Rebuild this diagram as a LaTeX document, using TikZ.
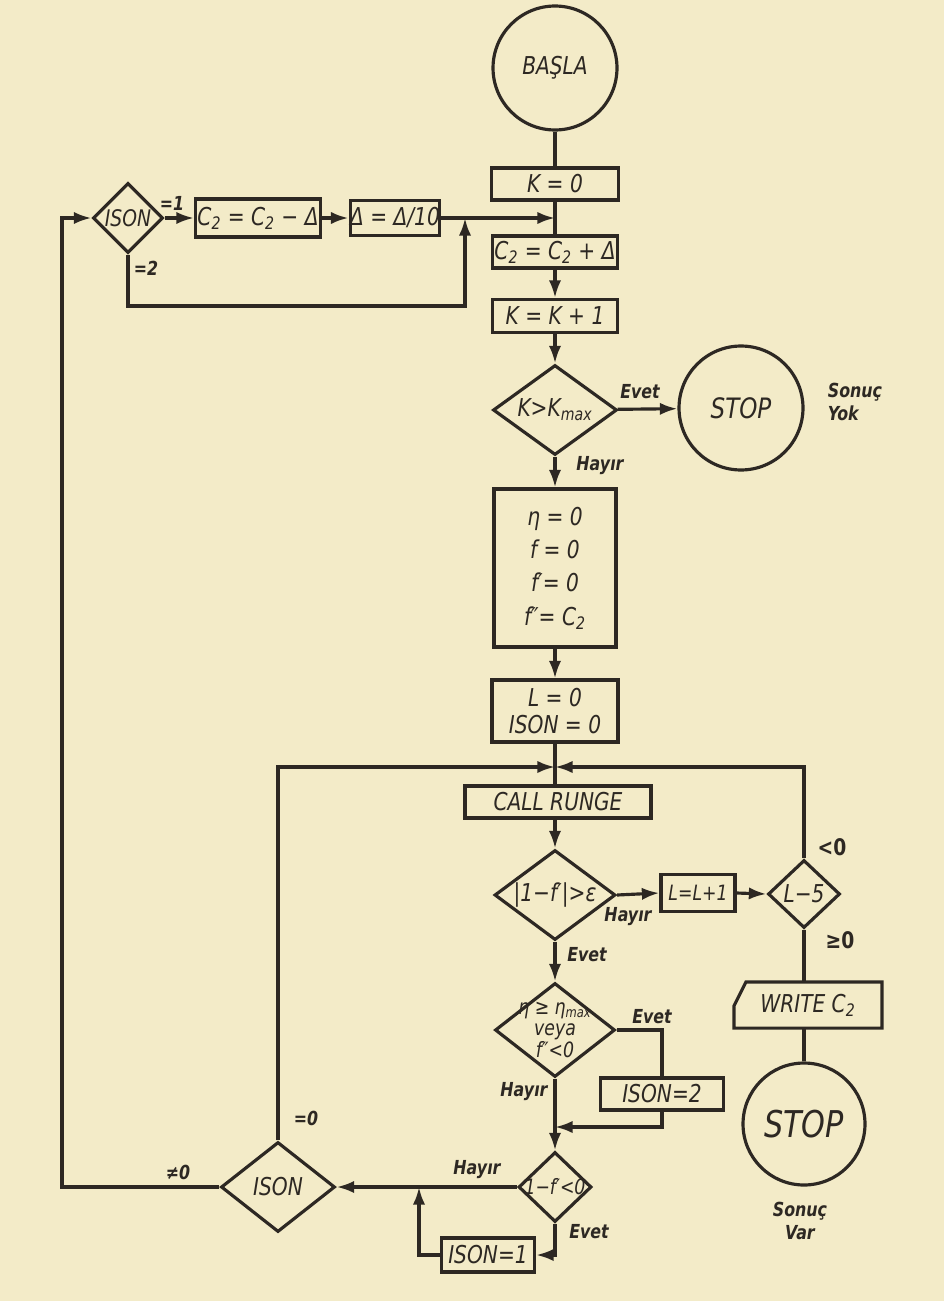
\documentclass[tikz,border=0pt]{standalone}
\usepackage{fontspec}
\setmainfont{DejaVu Sans}[FakeStretch=0.82]
\usetikzlibrary{shapes.geometric,arrows.meta,calc}
\definecolor{paper}{RGB}{243,235,200}
\definecolor{ink}{RGB}{45,40,35}
\tikzset{
  base/.style={draw=ink, line width=1.8pt, text=ink, inner sep=0pt, font=\fontsize{14}{19}\selectfont\itshape},
  box/.style={base, rectangle},
  dia/.style={base, diamond},
  term/.style={base, circle},
  txt/.style={text=ink, inner sep=0pt, font=\fontsize{14}{16}\selectfont\itshape, align=center},
  smalltxt/.style={text=ink, inner sep=0pt, font=\fontsize{12}{12.5}\selectfont\itshape, align=center},
  lab/.style={text=ink, inner sep=0pt, font=\fontsize{11}{13}\selectfont\bfseries\itshape, align=center},
  line/.style={draw=ink, line width=1.8pt},
  arr/.style={line, -{Latex[length=10pt,width=7pt]}},
}
\begin{document}
\begin{tikzpicture}[x=0.02cm,y=-0.02cm]
\fill[paper] (0,0) rectangle (944,1301);
\useasboundingbox (0,0) rectangle (944,1301);

% main column
\node[term, minimum size=2.48cm] (basla) at (555,68) {BAŞLA};
\node[box, minimum width=2.54cm, minimum height=0.64cm] (k0) at (555,184) {K = 0};
\node[box, minimum width=2.5cm, minimum height=0.64cm] (c2p) at (555,252) {C\textsubscript{2} = C\textsubscript{2} + Δ};
\node[box, minimum width=2.5cm, minimum height=0.66cm] (kk) at (555,316) {K = K + 1};
\node[dia, minimum width=2.48cm, minimum height=1.8cm] (kmax) at (555,410) {};
\node[txt] at (kmax) {K>K\textsubscript{max}};
\node[term, minimum size=2.48cm, font=\fontsize{16}{18}\selectfont\itshape] (stop1) at (741,408) {STOP};
\node[lab, align=left] (yok) at (855,402) {Sonuç\\Yok};
\node[box, minimum width=2.44cm, minimum height=3.16cm, align=center] (init) at (555,568) {η = 0\\ f = 0\\ f′= 0\\ f″= C\textsubscript{2}};
\node[box, minimum width=2.52cm, minimum height=1.24cm, align=center] (l0) at (555,711) {L = 0\\[-4pt]ISON = 0};
\coordinate (j1) at (555,767);
\node[box, minimum width=3.72cm, minimum height=0.64cm] (call) at (558,802) {CALL RUNGE};
\node[dia, minimum width=2.42cm, minimum height=1.8cm] (d1) at (555,895) {};
\node[txt] at (d1) {|1−f′|>ε};
\node[box, minimum width=1.48cm, minimum height=0.74cm, font=\fontsize{12}{13}\selectfont\itshape] (ll) at (698,893) {L=L+1};
\node[dia, minimum width=1.44cm, minimum height=1.36cm] (l5) at (804,894) {};
\node[txt] at (l5) {L−5};
\node[box, draw=none, minimum width=2.9cm, minimum height=0.86cm] (write) at (808,1005) {WRITE C\textsubscript{2}};
\node[term, minimum size=2.44cm, font=\fontsize{21}{23}\selectfont\itshape] (stop2) at (804,1124) {STOP};
\node[lab] (var) at (800,1221) {Sonuç\\Var};
\node[dia, minimum width=2.4cm, minimum height=1.88cm] (d2) at (555,1030) {};
\node[smalltxt] at (d2) {η ≥ η\textsubscript{max}\\veya\\f″<0};
\node[box, minimum width=2.46cm, minimum height=0.64cm] (ison2) at (662,1094) {ISON=2};
\coordinate (j2) at (555,1127);
\node[dia, minimum width=1.46cm, minimum height=1.4cm] (d3) at (555,1187) {};
\node[smalltxt] at (d3) {1−f′<0};
\node[box, minimum width=1.86cm, minimum height=0.68cm] (ison1) at (488,1255) {ISON=1};
\coordinate (j3) at (419,1187);
\node[dia, minimum width=2.28cm, minimum height=1.8cm] (isonb) at (278,1187) {};
\node[txt] at (isonb) {ISON};
\coordinate (lft) at (62,218);

% top loop
\node[dia, minimum width=1.4cm, minimum height=1.4cm] (isont) at (128,218) {};
\node[txt, font=\fontsize{13}{15}\selectfont\itshape] at (isont) {ISON};
\node[box, minimum width=2.5cm, minimum height=0.76cm] (c2m) at (258,218) {C\textsubscript{2} = C\textsubscript{2} − Δ};
\node[box, minimum width=1.72cm, minimum height=0.7cm] (dd) at (395,218) {Δ = Δ/10};
\coordinate (j0) at (465,218);
\coordinate (lp) at (465,306);

% write box outline
\draw[line] ($(write.north west)+(12,0)$) -- (write.north east) -- (write.south east) -- (write.south west) -- ($(write.north west)+(0,24)$) -- cycle;

% connectors
\draw[line] (basla) -- (k0);
\draw[line] (k0) -- (c2p);
\draw[arr] (dd.east) -- (dd.east -| k0.south);
\draw[arr] (c2p) -- (kk);
\draw[arr] (kk) -- (kmax);
\draw[arr] (kmax) -- (stop1);
\draw[arr] (kmax) -- (init);
\draw[arr] (init) -- (l0);
\draw[line] (l0) -- (j1 |- call.north);
\draw[arr] (isonb.north) |- (j1);
\draw[arr] (l5.north) |- (j1);
\draw[arr] (j1 |- call.south) -- (d1.north);
\draw[arr] (d1.east) -- (ll.west);
\draw[arr] (ll.east) -- (l5.west);
\draw[line] (l5.south) -- (l5.south |- write.north);
\draw[line] (stop2.north |- write.south) -- (stop2.north);
\draw[arr] (d1.south) -- (d2.north);
\draw[line] (d2.east) -| (ison2.north);
\draw[arr] (ison2.south) |- (j2);
\draw[arr] (d2.south) -- (d3.north);
\draw[arr] (d3.west) -- (isonb.east);
\draw[arr] (d3.south) |- (ison1.east);
\draw[arr] (ison1.west) -| (j3);
\draw[arr] (isonb.west) -| (lft) -- (isont.west);
\draw[arr] (isont.east) -- (c2m.west);
\draw[arr] (c2m.east) -- (dd.west);
\draw[arr] (isont.south) |- (lp) -- (j0);

% labels
\node[lab] at (172,203) {=1};
\node[lab] at (146,268) {=2};
\node[lab] at (178,1172) {≠0};
\node[lab] at (306,1118) {=0};
\node[lab] at (640,392) {Evet};
\node[lab] at (600,466) {Hayır};
\node[lab, font=\fontsize{13}{14}\selectfont\bfseries] at (832,847) {<0};
\node[lab, font=\fontsize{13}{14}\selectfont\bfseries] at (840,940) {≥0};
\node[lab] at (628,917) {Hayır};
\node[lab] at (587,955) {Evet};
\node[lab] at (652,1017) {Evet};
\node[lab] at (524,1092) {Hayır};
\node[lab] at (477,1170) {Hayır};
\node[lab] at (589,1232) {Evet};
\end{tikzpicture}
\end{document}
